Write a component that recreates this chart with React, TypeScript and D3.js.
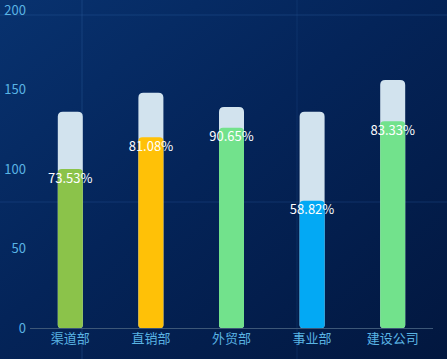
import { useEffect, useRef } from "react";
import * as d3 from "d3";

const categories = ["渠道部", "直销部", "外贸部", "事业部", "建设公司"];
const totals = [136, 148, 139, 136, 156];
const done = [100, 120, 126, 80, 130];
const colors = ["#8bc34a", "#ffc107", "#72e28c", "#03a9f4", "#72e28c"];
const yTicks = [0, 50, 100, 150, 200];

const W = 447;
const H = 359;

// path for a bar with separate top / bottom corner radius
function barPath(x: number, y: number, w: number, h: number, rt: number, rb: number) {
  const p = d3.path();
  p.moveTo(x + rt, y);
  p.lineTo(x + w - rt, y);
  p.quadraticCurveTo(x + w, y, x + w, y + rt);
  p.lineTo(x + w, y + h - rb);
  p.quadraticCurveTo(x + w, y + h, x + w - rb, y + h);
  p.lineTo(x + rb, y + h);
  p.quadraticCurveTo(x, y + h, x, y + h - rb);
  p.lineTo(x, y + rt);
  p.quadraticCurveTo(x, y, x + rt, y);
  p.closePath();
  return p.toString();
}

const App = () => {
  const svgRef = useRef<SVGSVGElement | null>(null);

  useEffect(() => {
    if (!svgRef.current) return;
    const svg = d3.select(svgRef.current);
    svg.selectAll("*").remove();

    const margin = { top: 10, right: 14, bottom: 31, left: 30 };
    const x = d3.scaleBand()
      .domain(categories)
      .range([margin.left, W - margin.right])
      .paddingInner(0)
      .paddingOuter(0);
    const y = d3.scaleLinear().domain([0, 200]).range([H - margin.bottom, margin.top]);
    const bw = 25;

    // background
    const defs = svg.append("defs");
    const g1 = defs.append("linearGradient").attr("id", "bg")
      .attr("x1", "0").attr("y1", "0").attr("x2", "1").attr("y2", "1");
    g1.append("stop").attr("offset", "0%").attr("stop-color", "#08326f");
    g1.append("stop").attr("offset", "45%").attr("stop-color", "#042459");
    g1.append("stop").attr("offset", "100%").attr("stop-color", "#02173f");
    svg.append("rect").attr("width", W).attr("height", H).attr("fill", "url(#bg)");

    // faint decoration lines
    svg.append("line").attr("x1", 82).attr("x2", 82).attr("y1", 0).attr("y2", H)
      .attr("stroke", "#2a5a9a").attr("stroke-opacity", 0.45);
    svg.append("line").attr("x1", 0).attr("x2", W).attr("y1", 15).attr("y2", 15)
      .attr("stroke", "#2a5a9a").attr("stroke-opacity", 0.4);
    svg.append("line").attr("x1", 0).attr("x2", W).attr("y1", 202).attr("y2", 202)
      .attr("stroke", "#2a5a9a").attr("stroke-opacity", 0.35);
    svg.append("line").attr("x1", 297).attr("x2", 297).attr("y1", 0).attr("y2", H)
      .attr("stroke", "#2a5a9a").attr("stroke-opacity", 0.25);

    // y labels
    svg.append("g").selectAll("text").data(yTicks).enter().append("text")
      .attr("x", 26)
      .attr("y", d => y(d))
      .attr("dy", "0.35em")
      .attr("text-anchor", "end")
      .attr("fill", "#5ab4e4")
      .attr("font-size", 13)
      .text(d => d);

    // x axis line
    svg.append("line")
      .attr("x1", margin.left).attr("x2", W - margin.right)
      .attr("y1", y(0) + 0.5).attr("y2", y(0) + 0.5)
      .attr("stroke", "#3d5777").attr("stroke-width", 1);

    svg.append("g").selectAll("text").data(categories).enter().append("text")
      .attr("x", d => (x(d) ?? 0) + x.bandwidth() / 2)
      .attr("y", y(0) + 15)
      .attr("text-anchor", "middle")
      .attr("fill", "#5ab4e4")
      .attr("font-size", 13)
      .text(d => d);

    // total bars
    svg.append("g").selectAll("path").data(categories).enter().append("path")
      .attr("d", (d, i) => {
        const cx = (x(d) ?? 0) + x.bandwidth() / 2;
        return barPath(cx - bw / 2, y(totals[i]), bw, y(0) - y(totals[i]), 5, 3);
      })
      .attr("fill", "#d2e3ee");

    // done bars
    svg.append("g").selectAll("path").data(categories).enter().append("path")
      .attr("d", (d, i) => {
        const cx = (x(d) ?? 0) + x.bandwidth() / 2;
        return barPath(cx - bw / 2, y(done[i]), bw, y(0) - y(done[i]), 4, 3);
      })
      .attr("fill", (_, i) => colors[i]);

    // percent labels
    svg.append("g").selectAll("text").data(categories).enter().append("text")
      .attr("x", d => (x(d) ?? 0) + x.bandwidth() / 2)
      .attr("y", (_, i) => y(done[i]) + 9)
      .attr("dy", "0.35em")
      .attr("text-anchor", "middle")
      .attr("fill", "#ffffff")
      .attr("font-size", 13)
      .text((_, i) => ((done[i] / totals[i]) * 100).toFixed(2) + "%");
  }, []);

  return (
    <svg
      ref={svgRef}
      width={W}
      height={H}
      style={{ position: "absolute", left: 0, top: 0, fontFamily: "'Noto Sans CJK SC', 'Noto Sans', sans-serif" }}
    />
  );
};

export default App;
